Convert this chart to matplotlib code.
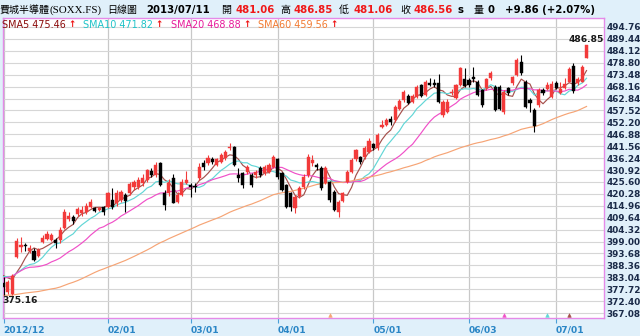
import matplotlib
matplotlib.use("Agg")
import matplotlib.pyplot as plt
import numpy as np
import pandas as pd

# ---------------- data ----------------
# closes before the first visible candle (estimated from where the MA lines start)
pre_close = [382, 379, 381, 378, 380, 383, 379,
             380, 377, 378, 381, 379,
             372, 368, 366, 370, 369,
             362, 358, 360, 357, 363,
             370, 374, 372, 375, 373, 374,
             372, 370, 369, 372, 371,
             367, 364, 362, 365, 366, 365,
             369, 372, 374, 373, 375, 376,
             386, 389, 391, 392, 390,
             381, 383, 385, 384, 382, 386, 387, 384, 383]

opens = [380.6, 376.3, 375.6, 392.3, 396.4, 397.6, 394.8, 395.0, 392.6, 399.0,
         400.2, 399.8, 399.7, 399.7, 405.0, 409.0, 410.1, 411.3, 411.6, 412.3,
         414.5, 413.9, 413.0, 414.3, 414.6, 417.5, 416.1, 417.5, 419.8, 420.5,
         423.3, 423.5, 425.3, 426.5, 430.6, 428.7, 434.0, 420.5, 420.5, 427.2,
         416.5, 420.0, 425.3, 424.3, 423.9, 427.2, 433.9, 433.9, 435.7, 433.2,
         434.7, 436.1, 440.6, 441.4, 428.7, 429.4, 430.2, 428.7, 428.7, 431.7,
         429.4, 430.2, 432.4, 435.7, 429.4, 424.2, 420.5, 413.8, 419.5, 423.5,
         428.7, 433.9, 433.2, 431.7, 425.0, 425.7, 421.3, 412.3, 417.2, 425.7,
         430.2, 435.7, 436.6, 436.6, 439.1, 442.5, 440.6, 450.0, 451.0, 453.5,
         453.3, 458.0, 462.2, 464.0, 461.4, 463.7, 468.9, 464.4, 469.6, 469.6,
         469.6, 455.5, 457.0, 465.2, 462.9, 468.9, 471.4, 471.0, 472.5, 470.4,
         466.6, 467.4, 471.8, 468.1, 468.0, 457.0, 467.4, 469.6, 473.3, 479.3,
         470.4, 462.2, 457.7, 459.9, 466.6, 467.0, 463.7, 469.9, 465.5, 467.4,
         470.4, 477.4, 469.6, 470.4, 481.06]
highs = [383.0, 382.0, 384.5, 400.5, 401.0, 398.5, 397.3, 396.2, 396.0, 402.0,
         403.5, 402.8, 400.5, 405.5, 413.5, 412.0, 411.0, 414.2, 414.8, 416.0,
         418.0, 414.5, 414.5, 415.0, 421.0, 423.0, 422.0, 422.0, 420.5, 425.5,
         426.5, 428.0, 429.0, 431.5, 432.0, 434.5, 434.5, 422.0, 427.0, 429.0,
         421.0, 427.0, 430.5, 425.0, 425.0, 433.9, 435.5, 437.5, 436.8, 436.5,
         438.5, 440.0, 443.1, 441.8, 431.7, 430.0, 433.0, 429.5, 431.0, 432.5,
         433.0, 434.0, 437.8, 436.5, 430.0, 424.8, 421.0, 419.8, 424.0, 429.0,
         438.0, 437.5, 434.0, 432.5, 432.5, 426.0, 421.8, 417.5, 421.2, 431.0,
         436.5, 440.5, 437.3, 441.5, 445.0, 443.2, 447.5, 453.3, 454.3, 455.0,
         459.8, 462.8, 466.5, 465.0, 465.0, 469.0, 469.5, 471.0, 472.0, 471.5,
         473.8, 462.0, 462.5, 467.0, 469.5, 477.0, 476.3, 472.0, 477.0, 471.0,
         467.0, 472.0, 475.2, 468.8, 468.8, 466.5, 468.0, 473.0, 480.8, 482.3,
         471.0, 463.0, 458.5, 467.5, 467.5, 470.2, 470.5, 470.5, 470.0, 472.0,
         476.8, 478.8, 472.5, 477.8, 486.85]
lows = [375.16, 375.6, 375.3, 391.8, 394.5, 394.8, 394.0, 390.3, 392.0, 398.3,
        399.8, 399.2, 396.0, 398.5, 404.5, 408.0, 407.0, 410.5, 410.2, 411.5,
        414.0, 412.0, 412.5, 411.0, 414.0, 413.5, 415.0, 416.5, 412.0, 420.0,
        422.0, 422.5, 424.0, 425.5, 428.0, 428.0, 424.0, 413.0, 419.5, 416.0,
        416.0, 419.5, 424.5, 419.0, 421.0, 426.5, 431.0, 433.0, 433.5, 432.5,
        434.0, 435.5, 440.0, 432.8, 425.7, 422.8, 429.0, 423.5, 427.5, 428.0,
        428.5, 429.5, 432.0, 427.0, 421.5, 414.0, 412.5, 411.6, 418.5, 422.5,
        428.0, 432.5, 431.0, 422.0, 424.5, 416.8, 412.5, 410.1, 416.5, 425.0,
        429.5, 435.0, 433.8, 436.0, 438.5, 440.0, 440.0, 449.5, 450.5, 451.0,
        452.5, 457.5, 461.5, 460.5, 460.8, 463.0, 463.5, 464.0, 468.3, 468.0,
        461.0, 454.5, 456.5, 464.5, 462.5, 468.5, 468.0, 468.0, 470.0, 464.0,
        459.0, 466.5, 471.2, 457.2, 457.5, 456.0, 464.5, 469.0, 472.8, 473.5,
        458.5, 457.0, 448.0, 459.0, 464.5, 466.5, 463.2, 467.0, 465.0, 467.0,
        470.0, 465.5, 469.0, 470.0, 481.06]
closes = [378.9, 381.0, 383.5, 399.3, 397.6, 396.8, 396.2, 390.8, 395.3, 400.6,
          402.4, 401.9, 398.3, 404.2, 412.3, 410.4, 408.0, 413.4, 413.1, 415.0,
          416.8, 412.8, 413.8, 412.3, 420.5, 414.3, 420.8, 421.3, 417.3, 424.5,
          425.7, 426.5, 427.2, 431.0, 428.8, 433.2, 424.3, 415.5, 425.0, 416.4,
          419.8, 425.7, 426.5, 423.3, 423.2, 432.4, 432.4, 436.1, 434.7, 435.7,
          437.6, 439.1, 441.4, 433.2, 427.2, 424.2, 432.4, 424.2, 430.2, 428.7,
          432.4, 433.2, 436.6, 428.0, 422.0, 414.6, 414.6, 419.0, 423.0, 428.0,
          436.9, 435.4, 432.1, 422.8, 431.7, 417.5, 413.1, 416.8, 420.5, 430.2,
          435.4, 439.9, 434.6, 440.6, 444.0, 440.6, 446.5, 451.0, 453.3, 452.5,
          459.0, 461.9, 465.9, 461.0, 464.0, 468.1, 464.0, 470.4, 468.9, 469.0,
          461.4, 461.4, 461.4, 465.9, 468.9, 476.3, 468.4, 469.0, 471.5, 464.4,
          459.9, 471.4, 474.1, 457.7, 458.0, 465.9, 465.2, 472.3, 480.0, 474.1,
          459.2, 461.0, 450.6, 466.6, 465.1, 469.0, 469.3, 467.5, 467.2, 469.5,
          475.9, 466.0, 471.4, 476.7, 486.56]

ytick_vals = [494.76, 489.44, 484.12, 478.80, 473.48, 468.16, 462.84, 457.52,
              452.20, 446.88, 441.56, 436.24, 430.92, 425.60, 420.28, 414.96,
              409.64, 404.32, 399.00, 393.68, 388.36, 383.04, 377.72, 372.40, 367.08]
xtick_idx = [0, 24, 43, 63, 85, 107, 127]
xtick_labels = ["2012/12", "02/01", "03/01", "04/01", "05/01", "06/03", "07/01"]

ma_periods = [5, 10, 20, 60]
ma_names = ["SMA5", "SMA10", "SMA20", "SMA60"]
ma_last = [475.46, 471.82, 468.88, 459.56]     # values printed in the legend
ma_line_colors = ["#a5504c", "#62d6d6", "#f050c8", "#f6a475"]
ma_text_colors = ["#8a0a0a", "#1ec3c8", "#e8189a", "#f27a30"]
ma_text_x = [2, 83, 171, 258]

signal_idx = [75, 115, 125, 130]
signal_colors = ["#f6a475", "#f050c8", "#62d6d6", "#a5504c"]

header_parts = [  # (x_px, text, color, weight, family)
    (0, "費城半導體", "#000000", "normal", "cjk"),
    (50, "(SOXX.FS)", "#000000", "normal", "serif"),
    (107, "日線圖", "#000000", "normal", "cjk"),
    (146, "2013/07/11", "#000000", "bold", "lat"),
    (221, "開", "#000000", "normal", "cjk"),
    (235, "481.06", "#f01818", "bold", "lat"),
    (280, "高", "#000000", "normal", "cjk"),
    (293, "486.85", "#f01818", "bold", "lat"),
    (339, "低", "#000000", "normal", "cjk"),
    (353, "481.06", "#f01818", "bold", "lat"),
    (400, "收", "#000000", "normal", "cjk"),
    (414, "486.56", "#f01818", "bold", "lat"),
    (457, "s", "#000000", "bold", "lat"),
    (474, "量", "#000000", "normal", "cjk"),
    (487, "0", "#000000", "bold", "lat"),
    (505, "+9.86 (+2.07%)", "#000000", "bold", "lat"),
]

# ---------------- computations ----------------
all_close = pd.Series(pre_close + closes)
npre = len(pre_close)
mas = [all_close.rolling(p).mean().to_numpy()[npre:] for p in ma_periods]

n = len(closes)
idx = np.arange(n)
o = np.array(opens); h = np.array(highs); l = np.array(lows); c = np.array(closes)

# ---------------- figure ----------------
W, H = 640, 336
bg = "#e0f0fa"
fig = plt.figure(figsize=(W / 100, H / 100), dpi=100, facecolor=bg)
ax_l, ax_r, ax_t, ax_b = 2.5, 603.5, 17.5, 318.0
ax = fig.add_axes([ax_l / W, 1 - ax_b / H, (ax_r - ax_l) / W, (ax_b - ax_t) / H])
ax.set_facecolor("white")

ax.set_xlim(-0.24, 137.9)
ax.set_ylim(364.88, 499.0)

for s in ax.spines.values():
    s.set_color("#e58ae8")
    s.set_linewidth(1.0)

ax.set_yticks(ytick_vals)
ax.set_yticklabels([f"{v:.2f}" for v in ytick_vals])
ax.yaxis.tick_right()
ax.tick_params(axis="y", length=0, pad=2.2, labelsize=6.4, labelcolor="#1a2a48")
for t in ax.get_yticklabels():
    t.set_fontweight("bold")

ax.set_xticks(xtick_idx)
ax.set_xticklabels(xtick_labels)
ax.tick_params(axis="x", length=3.5, width=0.8, color="#4aa0d8", pad=2.0,
               labelsize=6.6, labelcolor="#2a86c6")
for t in ax.get_xticklabels():
    t.set_fontweight("bold")
    t.set_horizontalalignment("left")

ax.grid(axis="y", color="#d6d6d6", linewidth=0.8)
ax.grid(axis="x", color="#c8c8c8", linewidth=0.9)
ax.set_axisbelow(True)

# moving averages
for m, col in zip(mas, ma_line_colors):
    ax.plot(idx, m, color=col, linewidth=0.85, zorder=3)

# candles
up = c >= o
colors = np.where(up, "#f23a3a", "#000000")
ax.vlines(idx, l, h, colors=colors, linewidth=0.8, zorder=4)
body_bot = np.minimum(o, c)
body_h = np.maximum(np.abs(c - o), 0.35)
ax.bar(idx, body_h, bottom=body_bot, width=0.72, color=colors,
       edgecolor=colors, linewidth=0.3, zorder=5)

# extreme labels
imax = int(np.argmax(h)); imin = int(np.argmin(l))
ax.annotate(f"{h[imax]:.2f}", (imax, h[imax]), xytext=(0, 0.5), textcoords="offset points",
            ha="center", va="bottom", fontsize=6.6, fontweight="bold", color="#1a1a1a")
ax.annotate(f"{l[imin]:.2f}", (imin, l[imin]), xytext=(-1, -1), textcoords="offset points",
            ha="left", va="top", fontsize=6.6, fontweight="bold", color="#1a1a1a")

# signal markers near bottom
for si, sc in zip(signal_idx, signal_colors):
    ax.plot(si, 366.3, marker="^", markersize=2.6, color=sc, markeredgewidth=0.4,
            linestyle="none", zorder=6)

# MA legend inside plot
fig.canvas.draw()
r = fig.canvas.get_renderer()
for i_ma, (name, val, tc, xp) in enumerate(zip(ma_names, ma_last, ma_text_colors, ma_text_x)):
    t = fig.text(xp / W, 1 - 24.5 / H, f"{name} {val:.2f}", color=tc, fontsize=6.9,
                 va="center", ha="left")
    bb = t.get_window_extent(r)
    arrow = "↑" if mas[i_ma][-1] >= mas[i_ma][-2] else "↓"
    fig.text((bb.x1 + 2.5) / W, 1 - 24.5 / H, arrow, color="#ee1111",
             fontsize=6.3, fontweight="bold", va="center", ha="left")

# header
for xp, txt, col, wt, fam in header_parts:
    if fam == "cjk":
        family, fs = ["Noto Sans CJK TC", "DejaVu Sans"], 7.2
    elif fam == "serif":
        family, fs = ["Liberation Serif", "DejaVu Serif"], 7.8
    else:
        family, fs = ["DejaVu Sans", "Noto Sans CJK TC"], 7.3
    fig.text(xp / W, 1 - 10 / H, txt, color=col, fontsize=fs, fontweight=wt,
             family=family, va="center", ha="left")

fig.savefig("out.png", dpi=100, facecolor=bg)
